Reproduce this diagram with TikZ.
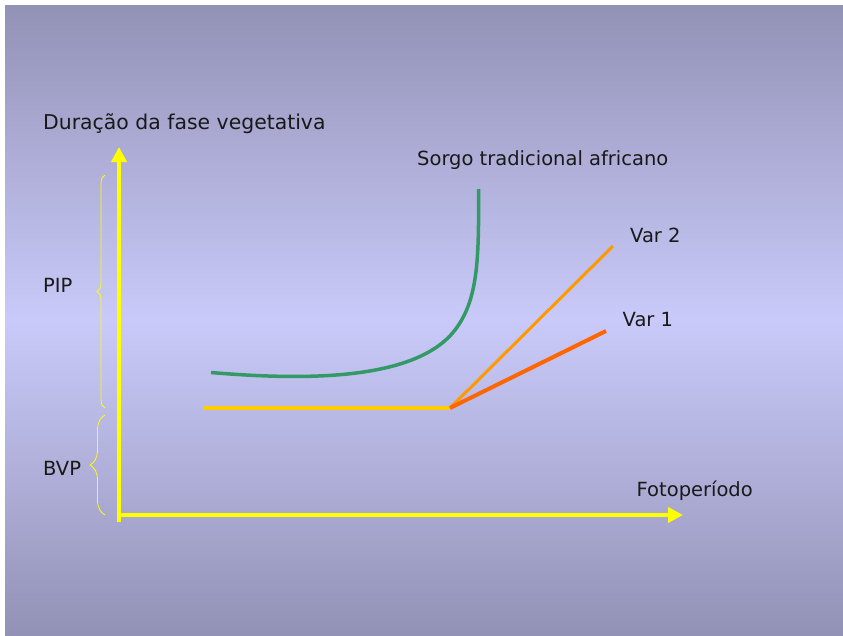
\documentclass[tikz,border=0pt]{standalone}
\usepackage{fontspec}
\setmainfont{DejaVu Sans}
\usepackage{tikz}
\usetikzlibrary{arrows.meta,decorations.pathreplacing}
\definecolor{bgedge}{RGB}{146,146,182}
\definecolor{bgmid}{RGB}{202,202,250}
\definecolor{axisyellow}{RGB}{255,255,0}
\definecolor{flatgold}{RGB}{255,204,0}
\definecolor{vartwo}{RGB}{255,153,0}
\definecolor{varone}{RGB}{255,102,0}
\definecolor{sorgogreen}{RGB}{51,153,102}
\newcommand{\axcol}{axisyellow}
\newcommand{\txtcol}{black!90}

\begin{document}
\begin{tikzpicture}[x=1pt, y=1pt,
    axisline/.style={draw=\axcol, line width=3.75pt, -{Triangle[length=15pt,width=15pt]}},
    lbl/.style={anchor=base west, inner sep=0pt, text=\txtcol, font=\fontsize{19.5}{23}\selectfont},
    phasebrace/.style={draw=\axcol, line width=0.8pt, decorate, decoration={brace, amplitude=#1}}]

    \useasboundingbox (0, 0) rectangle (843, -635);
    \fill[white] (0, 0) rectangle (843, -635);
    \shade[top color=bgedge, bottom color=bgedge, middle color=bgmid] (5, -5) rectangle (843, -635);

    \coordinate (knee) at (450, -408);
    \coordinate (bend) at (455, -330);

    \draw[axisline] (119, -522) -- (119, -147);
    \draw[axisline] (119, -515) -- (683, -515);

    \draw[phasebrace=8pt] (105, -408) -- (105, -175);
    \draw[phasebrace=15pt] (105, -515) -- (105, -415);

    \draw[draw=flatgold, line width=4pt] (203, -408) -- (knee);
    \draw[draw=vartwo, line width=3pt] (knee) -- (613, -246);
    \draw[draw=varone, line width=4pt] (knee) -- (606, -331);
    \draw[draw=sorgogreen, line width=3.5pt] (211, -372.5) .. controls (300, -380) and (415, -382) .. (bend)
        .. controls (478, -300) and (479, -260) .. (478.5, -189);

    \node[lbl, font=\fontsize{20.4}{24}\selectfont] (ylabel) at (43, -129) {Duração da fase vegetativa};
    \node[lbl] (sorgolabel) at (417, -165) {Sorgo tradicional africano};
    \node[lbl] (vartwolabel) at (630, -242) {Var 2};
    \node[lbl] (varonelabel) at (622.5, -326) {Var 1};
    \node[lbl] (xlabel) at (636.5, -496.5) {Fotoperíodo};
    \node[lbl] (piplabel) at (43, -292) {PIP};
    \node[lbl] (bvplabel) at (43, -475.5) {BVP};

\end{tikzpicture}
\end{document}
